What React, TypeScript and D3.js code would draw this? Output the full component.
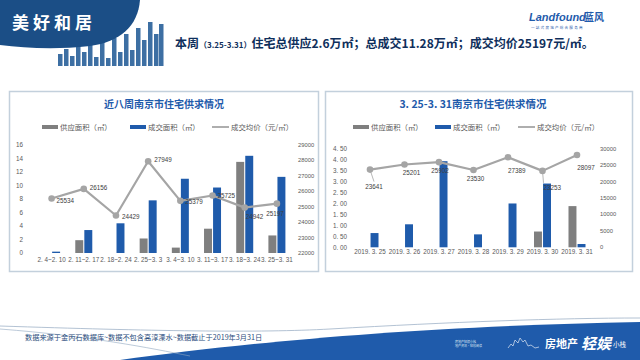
import React from "react";
import * as d3 from "d3";

// ---------- data ----------
const weeks = ["2. 4~2. 10", "2. 11~2. 17", "2. 18~2. 24", "2. 25~3. 3", "3. 4~3. 10", "3. 11~3. 17", "3. 18~3. 24", "3. 25~3. 31"];
const weekSupply = [0, 1.9, 0, 2.15, 0.8, 3.6, 13.5, 2.6];
const weekDeal = [0.2, 3.4, 4.4, 7.8, 11.0, 9.7, 14.4, 11.28];
const weekPrice = [25534, 26156, 24429, 27949, 25379, 25725, 24942, 25197];

const days = ["2019. 3. 25", "2019. 3. 26", "2019. 3. 27", "2019. 3. 28", "2019. 3. 29", "2019. 3. 30", "2019. 3. 31"];
const daySupply = [0, 0, 0, 0, 0, 0.72, 1.88];
const dayDeal = [0.65, 1.05, 3.93, 0.59, 2.0, 2.91, 0.15];
const dayPrice = [23641, 25201, 25902, 23530, 27389, 23253, 28097];

const leftTicks = [0, 2, 4, 6, 8, 10, 12, 14, 16];
const leftRTicks = [22000, 23000, 24000, 25000, 26000, 27000, 28000, 29000];
const rightTicks = [0, 0.5, 1, 1.5, 2, 2.5, 3, 3.5, 4, 4.5];
const rightRTicks = [0, 5000, 10000, 15000, 20000, 25000, 30000];

const legendNames = ["供应面积（㎡）", "成交面积（㎡）", "成交均价（元/㎡）"];

// label nudges (style config, not data)
const weekLabelNudge: [number, number, string][] = [
  [5, 2, "start"], [6, -1, "start"], [6, 1, "start"], [6, -1, "start"],
  [5, 1, "start"], [5, 0, "start"], [1, 9, "start"], [-2, 10, "middle"],
];
const dayLabelNudge: [number, number, string, boolean][] = [
  [4, 17, "middle", true], [7, 8, "middle", false], [1, 9, "middle", false], [2, 9, "middle", false],
  [0, 14, "start", false], [1, 17, "start", true], [9, 13, "middle", false],
];

const GREY = "#7f7f7f";
const BLUE = "#1f5bab";
const LINE = "#a5a5a5";
const TXT = "#595959";
const FONT = "'Liberation Sans', 'Noto Sans CJK SC', sans-serif";
const CJK = "'Noto Sans CJK SC', sans-serif";

type ChartProps = {
  cats: string[];
  supply: number[];
  deal: number[];
  price: number[];
  xRange: [number, number];
  yRange: [number, number];
  yL: [number, number];
  yR: [number, number];
  lTicks: number[];
  rTicks: number[];
  lFmt: (v: number) => string;
  lAxisX: number;
  rAxisX: number;
  xLabelY: number;
  labels: (x: number, y: number, v: number, i: number) => React.ReactNode;
};

function Chart(p: ChartProps) {
  const x = d3.scaleBand<string>().domain(p.cats).range(p.xRange).padding(0);
  const sub = d3.scaleBand<string>().domain(["s", "d"]).range([-8.5, 8.5]).paddingInner(0.12);
  const yl = d3.scaleLinear().domain(p.yL).range(p.yRange);
  const yr = d3.scaleLinear().domain(p.yR).range(p.yRange);
  const cx = (c: string) => (x(c) as number) + x.bandwidth() / 2;
  const line = d3.line<number>().x((_, i) => cx(p.cats[i])).y((v) => yr(v));
  return (
    <g>
      {p.lTicks.map((t) => (
        <text key={"l" + t} x={p.lAxisX} y={yl(t)} dy="0.35em" textAnchor="end" fontSize={6.3} fill={TXT} fontFamily={FONT}>
          {p.lFmt(t)}
        </text>
      ))}
      {p.rTicks.map((t) => (
        <text key={"r" + t} x={p.rAxisX} y={yr(t)} dy="0.35em" textAnchor="start" fontSize={5.8} fill={TXT} fontFamily={FONT}>
          {t}
        </text>
      ))}
      {p.cats.map((c, i) => (
        <g key={c}>
          {p.supply[i] > 0 && (
            <rect x={cx(c) + (sub("s") as number)} width={sub.bandwidth()} y={yl(p.supply[i])} height={yl(0) - yl(p.supply[i])} fill={GREY} />
          )}
          {p.deal[i] > 0 && (
            <rect x={cx(c) + (sub("d") as number)} width={sub.bandwidth()} y={yl(p.deal[i])} height={yl(0) - yl(p.deal[i])} fill={BLUE} />
          )}
          <text x={cx(c)} y={p.xLabelY} textAnchor="middle" fontSize={6.3} fill={TXT} fontFamily={FONT}>
            {c}
          </text>
        </g>
      ))}
      <path d={line(p.price) as string} fill="none" stroke={LINE} strokeWidth={2.2} strokeLinejoin="round" />
      {p.price.map((v, i) => (
        <circle key={i} cx={cx(p.cats[i])} cy={yr(v)} r={3.3} fill={LINE} />
      ))}
      {p.price.map((v, i) => (
        <g key={"lab" + i}>{p.labels(cx(p.cats[i]), yr(v), v, i)}</g>
      ))}
    </g>
  );
}

function Legend({ x0, gap1, gap2, y }: { x0: number; gap1: number; gap2: number; y: number }) {
  const xs = [x0, x0 + gap1, x0 + gap1 + gap2];
  return (
    <g fontFamily={CJK} fontSize={7.4} fill={TXT}>
      <rect x={xs[0]} y={y - 2} width={16} height={4} fill={GREY} />
      <text x={xs[0] + 18} y={y} dy="0.35em">{legendNames[0]}</text>
      <rect x={xs[1]} y={y - 2} width={16} height={4} fill={BLUE} />
      <text x={xs[1] + 18} y={y} dy="0.35em">{legendNames[1]}</text>
      <line x1={xs[2]} x2={xs[2] + 17} y1={y} y2={y} stroke={LINE} strokeWidth={1.8} />
      <text x={xs[2] + 19} y={y} dy="0.35em">{legendNames[2]}</text>
    </g>
  );
}

export default function App() {
  const skyline = [
    [58, 60], [64, 55], [70, 62], [76, 52], [82, 58], [88, 49], [94, 63], [100, 46], [106, 64], [112, 44],
    [118, 58], [124, 40], [130, 56], [136, 34], [142, 46], [148, 28], [154, 40], [159, 30],
  ];
  return (
    <svg width={640} height={360} style={{ position: "absolute", left: 0, top: 0, background: "#fff" }}>
      <rect width={640} height={360} fill="#ffffff" />
      {/* header decoration */}
      {skyline.map(([sx, h], i) => (
        <rect key={i} x={sx} y={h - 6} width={4.5} height={72 - h} fill="#3d6fa3" />
      ))}
      <path d="M0,0 H140 C138,26 120,42 90,46 C55,50 25,48 0,45 Z" fill="#1b4e86" />
      <text x={12} y={29} fill="#fff" fontFamily={CJK} fontWeight={700} fontSize={17} letterSpacing={4}>美好和居</text>
      <text x={529} y={21} fill="#1f5bab" fontFamily={FONT} fontStyle="italic" fontWeight={700} fontSize={11}>Landfound</text>
      <text x={584} y={21} fill="#1f5bab" fontFamily={CJK} fontWeight={700} fontSize={10}>蓝风</text>
      <text x={531} y={29} fill="#1f5bab" fontFamily={CJK} fontSize={3.6} letterSpacing={1.2}>一站式房地产综合服务商</text>
      <text x={175} y={48} fill="#0f2f5c" fontFamily={CJK} fontWeight={700} fontSize={12}>
        本周<tspan fontSize={8}>（3.25-3.31）</tspan>住宅总供应2.6万㎡；总成交11.28万㎡；成交均价25197元/㎡。
      </text>

      {/* panels */}
      <rect x={9.5} y={91.5} width={309} height={180} fill="#fff" stroke="#c3d0dc" strokeWidth={1.5} />
      <rect x={325.5} y={91.5} width={307} height={180} fill="#fff" stroke="#c3d0dc" strokeWidth={1.5} />

      <text x={164} y={108} textAnchor="middle" fill="#1f5bab" fontFamily={CJK} fontWeight={700} fontSize={10}>近八周南京市住宅供求情况</text>
      <text x={473} y={108} textAnchor="middle" fill="#1f5bab" fontFamily={CJK} fontWeight={700} fontSize={10.5}>3. 25-3. 31南京市住宅供求情况</text>

      <Legend x0={42} gap1={88} gap2={82} y={127} />
      <Legend x0={353} gap1={82} gap2={83} y={127} />

      <Chart
        cats={weeks}
        supply={weekSupply}
        deal={weekDeal}
        price={weekPrice}
        xRange={[35.5, 293]}
        yRange={[253, 145]}
        yL={[0, 16]}
        yR={[22000, 29000]}
        lTicks={leftTicks}
        rTicks={leftRTicks}
        lFmt={(v) => String(v)}
        lAxisX={23}
        rAxisX={298}
        xLabelY={261.5}
        labels={(px, py, v, i) => {
          const [dx, dy, anchor] = weekLabelNudge[i];
          return (
            <text x={px + dx} y={py + dy} dy="0.35em" textAnchor={anchor as any} fontSize={6.3} fill="#404040" fontFamily={FONT}>
              {v}
            </text>
          );
        }}
      />
      <Chart
        cats={days}
        supply={daySupply}
        deal={dayDeal}
        price={dayPrice}
        xRange={[352.75, 594.25]}
        yRange={[247.3, 148.7]}
        yL={[0, 4.5]}
        yR={[0, 30000]}
        lTicks={rightTicks}
        rTicks={rightRTicks}
        lFmt={(v) => d3.format(".2f")(v).replace(".", ". ")}
        lAxisX={347}
        rAxisX={600}
        xLabelY={253.5}
        labels={(px, py, v, i) => {
          const [dx, dy, anchor, leader] = dayLabelNudge[i];
          return (
            <g>
              {leader && <line x1={px} y1={py} x2={px + dx} y2={py + dy - 5} stroke={LINE} strokeWidth={0.8} />}
              <text x={px + dx} y={py + dy} dy="0.35em" textAnchor={anchor as any} fontSize={6.3} fill="#404040" fontFamily={FONT}>
                {v}
              </text>
            </g>
          );
        }}
      />

      {/* footer */}
      <path d="M0,326 C150,331 260,333 330,329 C450,322 560,318 640,318" fill="none" stroke="#9fb3c8" strokeWidth={0.8} />
      <path d="M120,360 C250,342 420,326 640,322 V360 Z" fill="#1f5bab" />
      <path d="M0,329 C90,336 150,348 190,356" fill="none" stroke="#8fa6bf" strokeWidth={0.6} />
      <text x={25} y={340} fill="#2b4d7d" fontFamily={CJK} fontSize={7.2}>数据来源于金丙石数据库~数据不包含高淳溧水~数据截止于2019年3月31日</text>
      <text x={455} y={343} fill="#dfe8f3" fontFamily={CJK} fontSize={3}>房地产轻娱小栈</text>
      <text x={455} y={347} fill="#dfe8f3" fontFamily={CJK} fontSize={3}>地产资讯·轻松阅读</text>
      <path d="M508,348 l3,-4 l2,2 l2,-6 l3,3 l2,-5 l3,4 l2,-2 l3,6 l3,-1 l4,3 l4,-1" fill="none" stroke="#dfe8f3" strokeWidth={0.7} />
      <text x={545} y={348} fill="#fff" fontFamily={CJK} fontWeight={700} fontSize={11}>房地产</text>
      <text x={581} y={349} fill="#fff" fontFamily={CJK} fontWeight={700} fontSize={15} fontStyle="italic">轻娱</text>
      <text x={613} y={347} fill="#fff" fontFamily={CJK} fontSize={6.5}>小栈</text>
    </svg>
  );
}
